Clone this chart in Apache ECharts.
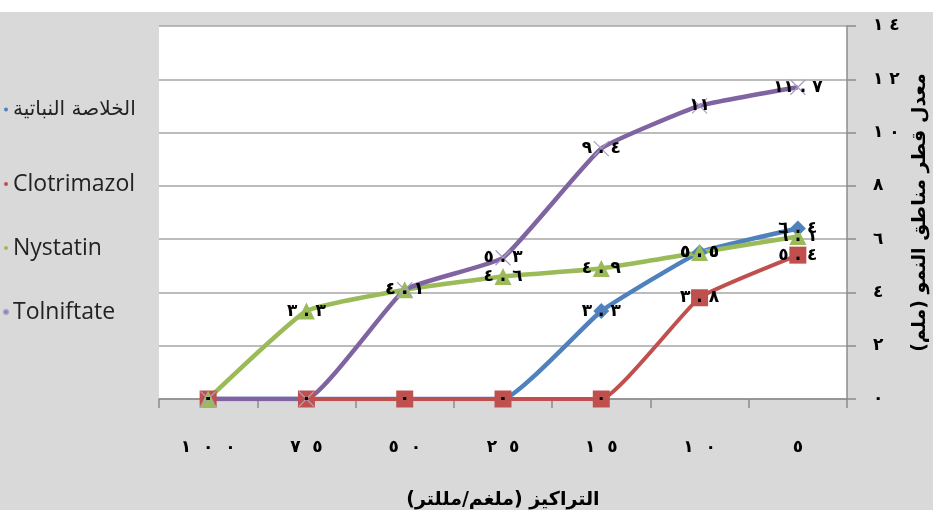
<!DOCTYPE html>
<html>
<head>
<meta charset="utf-8">
<script src="https://cdn.jsdelivr.net/npm/echarts@6/dist/echarts.min.js"></script>
<style>
  html, body { margin: 0; padding: 0; background: #fff; }
  #chart { width: 933px; height: 510px; }
</style>
</head>
<body>
<div id="chart"></div>
<script>
// Concentrations (mg/ml), shown in Arabic-Indic digits
const categories = ['١٠٠', '٧٥', '٥٠', '٢٥', '١٥', '١٠', '٥'];

// Mean inhibition-zone diameter (mm) per treatment
const seriesNames = ['الخلاصة النباتية', 'Clotrimazol', 'Nystatin', 'Tolniftate'];
const extractValues     = [0, 0, 0, 0, 3.3, 5.5, 6.4];
const clotrimazolValues = [0, 0, 0, 0, 0, 3.8, 5.4];
const nystatinValues    = [0, 3.3, 4.1, 4.6, 4.9, 5.5, 6.1];
const tolniftateValues  = [0, 0, 4.1, 5.3, 9.4, 11, 11.7];

// Value-axis tick labels (0..14 step 2)
const yTickLabels = ['٠', '٢', '٤', '٦', '٨', '١٠', '١٢', '١٤'];

const xAxisTitle = 'التراكيز (ملغم/مللتر)';
const yAxisTitle = 'معدل قطر مناطق النمو (ملم)';

const AR_DIGITS = '٠١٢٣٤٥٦٧٨٩';
const LRM = '\u200E';
function toArabic(str) {
  return String(str).replace(/[0-9]/g, d => AR_DIGITS[+d]);
}
// Spread the digits out while keeping them in left-to-right order
function spaced(str, gap) {
  return LRM + str.split('').join(LRM + gap + LRM) + LRM;
}
function valueLabel(v) {
  const s = toArabic(v);
  if (s.indexOf('.') < 0) return LRM + s + LRM;
  const parts = s.split('.');
  return LRM + parts[0] + LRM + ' . ' + LRM + parts[1] + LRM;
}

const colors = ['#4F81BD', '#C0504D', '#9BBB59', '#8064A2'];
const labelStyle = {
  show: true,
  position: 'inside',
  color: '#000',
  fontFamily: 'DejaVu Sans',
  fontWeight: 'bold',
  fontSize: 17,
  formatter: p => valueLabel(p.value)
};

const chart = echarts.init(document.getElementById('chart'));
chart.setOption({
  backgroundColor: '#d9d9d9',
  animation: false,
  graphic: [{
    type: 'rect', left: 0, top: 0, z: -1,
    shape: { width: 933, height: 12 },
    style: { fill: '#ffffff' }
  }],
  grid: {
    left: 159, right: 86, top: 26, bottom: 111,
    outerBoundsMode: 'none',
    containLabel: false,
    show: true, backgroundColor: '#ffffff', borderWidth: 0
  },
  legend: {
    orient: 'vertical',
    left: 3, top: 87,
    padding: 0,
    itemGap: 40,
    icon: 'circle',
    itemWidth: 4, itemHeight: 4,
    textStyle: { fontFamily: 'Open Sans', fontSize: 23, color: '#222', lineHeight: 24 },
    data: [
      { name: seriesNames[0], itemStyle: { color: colors[0] },
        textStyle: { fontSize: 20, lineHeight: 45, fontFamily: 'DejaVu Sans' } },
      { name: seriesNames[1], itemStyle: { color: colors[1] } },
      { name: seriesNames[2], itemStyle: { color: colors[2] } },
      { name: seriesNames[3], itemStyle: { color: colors[3] } }
    ]
  },
  xAxis: {
    type: 'category',
    data: categories,
    boundaryGap: true,
    axisLine: { lineStyle: { color: '#8c8c8c', width: 1.5 } },
    axisTick: { show: true, length: 9, alignWithLabel: false, lineStyle: { color: '#8c8c8c', width: 1.5 } },
    axisLabel: {
      margin: 40, color: '#000', fontFamily: 'DejaVu Sans', fontWeight: 'bold', fontSize: 17,
      formatter: v => spaced(v, '  ')
    },
    name: xAxisTitle,
    nameLocation: 'middle',
    nameGap: 92,
    nameTextStyle: { color: '#000', fontFamily: 'DejaVu Sans', fontWeight: 'bold', fontSize: 19 }
  },
  yAxis: {
    type: 'value',
    position: 'right',
    min: 0, max: 14, interval: 2,
    axisLine: { show: true, lineStyle: { color: '#8c8c8c', width: 1.5 } },
    axisTick: { show: true, inside: false, length: 9, lineStyle: { color: '#8c8c8c', width: 1.5 } },
    splitLine: { show: true, lineStyle: { color: '#a6a6a6', width: 1.5 } },
    axisLabel: {
      margin: 26, color: '#000', fontFamily: 'DejaVu Sans', fontWeight: 'bold', fontSize: 17,
      align: 'left',
      formatter: v => spaced(yTickLabels[Math.round(v / 2)], ' ')
    },
    name: yAxisTitle,
    nameLocation: 'middle',
    nameGap: 62,
    nameRotate: 90,
    nameTextStyle: { color: '#000', fontFamily: 'DejaVu Sans', fontWeight: 'bold', fontSize: 19 }
  },
  series: [
    {
      name: seriesNames[0], type: 'line', data: extractValues, smooth: 0.12,
      symbol: 'diamond', symbolSize: 16,
      lineStyle: { color: colors[0], width: 4.5 },
      itemStyle: { color: colors[0] },
      label: labelStyle
    },
    {
      name: seriesNames[1], type: 'line', data: clotrimazolValues, smooth: 0.12,
      symbol: 'rect', symbolSize: 17,
      lineStyle: { color: colors[1], width: 4 },
      itemStyle: { color: colors[1] },
      label: labelStyle
    },
    {
      name: seriesNames[2], type: 'line', data: nystatinValues, smooth: 0.12,
      symbol: 'triangle', symbolSize: 17,
      lineStyle: { color: colors[2], width: 4.5 },
      itemStyle: { color: colors[2] },
      label: labelStyle
    },
    {
      name: seriesNames[3], type: 'line', data: tolniftateValues, smooth: 0.12,
      symbol: 'path://M0,0L10,10M10,0L0,10', symbolSize: 15,
      lineStyle: { color: colors[3], width: 4.5 },
      itemStyle: { color: 'rgba(0,0,0,0)', borderColor: '#a99cc4', borderWidth: 1.2 },
      label: labelStyle
    }
  ]
});
</script>
</body>
</html>
